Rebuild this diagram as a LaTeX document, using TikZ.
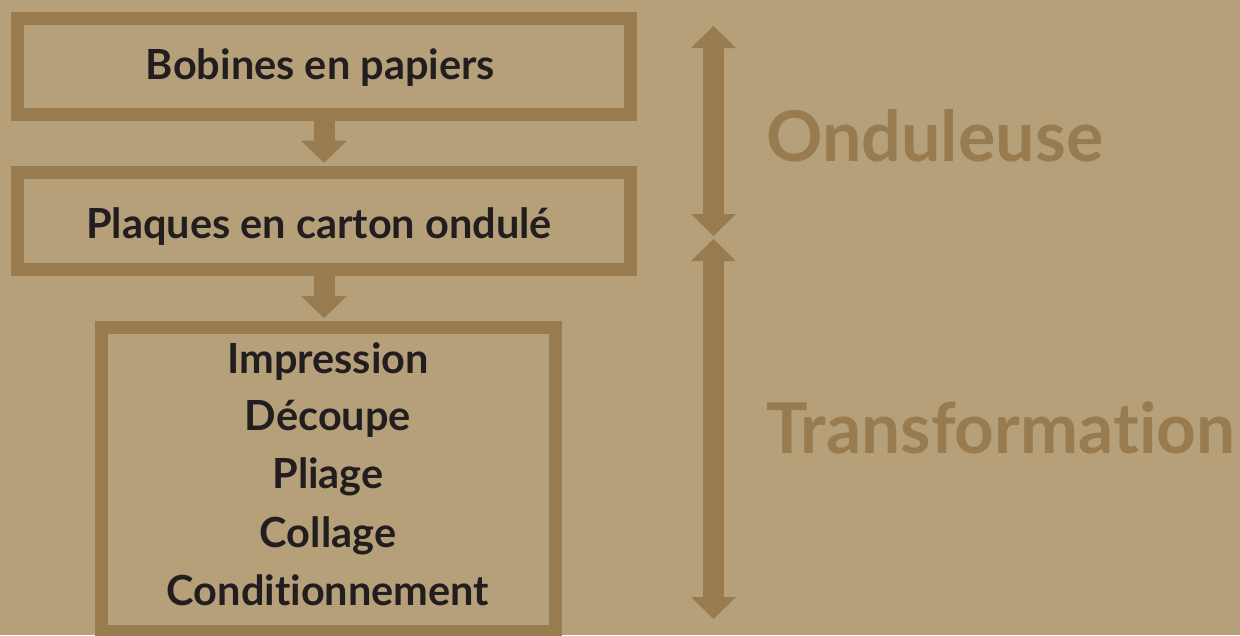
\documentclass[tikz,border=0pt]{standalone}
\usepackage{fontspec}
\setmainfont{Lato}[Ligatures={NoCommon,NoContextual}]
\usetikzlibrary{arrows.meta}
\definecolor{bg}{RGB}{182,160,122}
\definecolor{brd}{RGB}{152,124,80}
\definecolor{ink}{RGB}{34,30,31}
\begin{document}
\begin{tikzpicture}[x=1pt,y=-1pt,
  box/.style={draw=brd,line width=13pt,inner sep=0pt},
  lbl/.style={text=ink,font=\bfseries\fontsize{41.5}{58}\selectfont,anchor=base,inner sep=0pt},
  big/.style={text=brd,font=\bfseries\fontsize{70}{70}\selectfont,anchor=base west,inner sep=0pt},
  flow/.style={draw=brd,line width=21pt,-{Triangle[length=22pt,width=46pt,line width=0pt]}},
  dbl/.style={draw=brd,line width=21pt,{Triangle[length=22pt,width=45pt,line width=0pt]}-{Triangle[length=22pt,width=45pt,line width=0pt]}}]
\fill[bg] (0,0) rectangle (1240,635);
\useasboundingbox (0,0) rectangle (1240,635);
% boxes
\node[box,minimum width=613.5pt,minimum height=96pt] (b1) at (324,66.1) {};
\node[box,minimum width=613.5pt,minimum height=97pt] (b2) at (324,221) {};
\node[box,minimum width=454pt,minimum height=304pt] (b3) at (328.5,479.5) {};
% labels
\node[lbl] (l1) at (320.5,79) {Bobines en papiers};
\node[lbl] (l2) at (319,238) {Plaques en carton ondulé};
\node[lbl] (l3) at (328,373) {Impression};
\node[lbl] (l4) at (328,430) {Découpe};
\node[lbl] (l5) at (328,488) {Pliage};
\node[lbl] (l6) at (328,547) {Collage};
\node[lbl] (l7) at (328,605) {Conditionnement};
% flow arrows
\draw[flow,shorten >=3.3pt] (b1.south) -- (b1.south |- b2.north);
\draw[flow,shorten >=3pt] (b2.south) -- (b2.south |- b3.north);
% stage arrows
\coordinate (o1) at (713.5,26);
\coordinate (o2) at (713.5,236);
\coordinate (t1) at (713.5,239);
\coordinate (t2) at (713.5,619);
\draw[dbl] (o1) -- (o2);
\draw[dbl] (t1) -- (t2);
\node[big] (on) at (766,161) {Onduleuse};
\node[big] (tr) at (766,453) {\scalebox{0.99}[1]{Transformation}};
\end{tikzpicture}
\end{document}
